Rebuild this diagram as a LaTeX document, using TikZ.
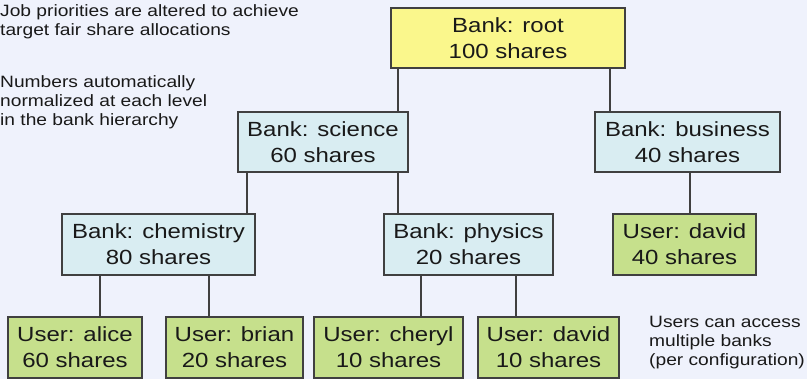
\documentclass[tikz,border=0pt]{standalone}
\usepackage{fontspec}
\setmainfont{Liberation Sans}[FakeStretch=1.17]
\definecolor{bgc}{RGB}{239,242,252}
\definecolor{rootc}{RGB}{250,247,140}
\definecolor{bankc}{RGB}{217,237,242}
\definecolor{userc}{RGB}{198,224,140}
\definecolor{edgec}{RGB}{64,64,64}
\tikzset{
  box/.style={draw=edgec, line width=1.3pt, inner sep=0pt, align=center,
    font=\fontsize{20.5}{26}\selectfont, text=black!90},
  rootbox/.style={box, fill=rootc},
  bankbox/.style={box, fill=bankc},
  userbox/.style={box, fill=userc},
  link/.style={draw=edgec, line width=1.3pt},
  note/.style={anchor=base west, align=left, inner sep=0pt,
    font=\fontsize{16.4}{19.3}\selectfont, text=black!90}
}
\begin{document}
\begin{tikzpicture}[x=1pt,y=-1pt]
\fill[bgc] (0,0) rectangle (807,379);
\useasboundingbox (0,0) rectangle (807,379);

\node[rootbox, minimum width=234pt, minimum height=60pt] (root) at (508,38) {Bank: root\\100 shares};
\node[bankbox, minimum width=170pt, minimum height=60pt] (science) at (323,142) {Bank: science\\60 shares};
\node[bankbox, minimum width=185pt, minimum height=60pt] (business) at (687.5,142) {Bank: business\\40 shares};
\node[bankbox, minimum width=193pt, minimum height=61pt] (chem) at (158.5,244.5) {Bank: chemistry\\80 shares};
\node[bankbox, minimum width=169pt, minimum height=61pt] (phys) at (468.5,244.5) {Bank: physics\\20 shares};
\node[userbox, minimum width=143pt, minimum height=61pt] (david40) at (684.5,244.5) {User: david\\40 shares};
\node[userbox, minimum width=134pt, minimum height=61pt] (alice) at (75,347.5) {User: alice\\60 shares};
\node[userbox, minimum width=137pt, minimum height=61pt] (brian) at (234.5,347.5) {User: brian\\20 shares};
\node[userbox, minimum width=149pt, minimum height=61pt] (cheryl) at (388.5,347.5) {User: cheryl\\10 shares};
\node[userbox, minimum width=141pt, minimum height=61pt] (david10) at (548.5,347.5) {User: david\\10 shares};

\draw[link] ([xshift=-110pt]root.south) -- ([xshift=75pt]science.north);
\draw[link] ([xshift=102pt]root.south) -- ([xshift=-77.5pt]business.north);
\draw[link] ([xshift=-76pt]science.south) -- ([xshift=88.5pt]chem.north);
\draw[link] ([xshift=75pt]science.south) -- ([xshift=-70.5pt]phys.north);
\draw[link] ([xshift=2.5pt]business.south) -- ([xshift=5.5pt]david40.north);
\draw[link] ([xshift=-58.5pt]chem.south) -- ([xshift=25pt]alice.north);
\draw[link] ([xshift=50.5pt]chem.south) -- ([xshift=-25.5pt]brian.north);
\draw[link] ([xshift=-47.5pt]phys.south) -- ([xshift=32.5pt]cheryl.north);
\draw[link] ([xshift=47.5pt]phys.south) -- ([xshift=-32.5pt]david10.north);

\node[note] (n1) at (0,36) {Job priorities are altered to achieve\\target fair share allocations};
\node[note] (n2) at (0,126) {Numbers automatically\\normalized at each level\\in the bank hierarchy};
\node[note] (n3) at (649,366) {Users can access\\multiple banks\\(per configuration)};
\end{tikzpicture}
\end{document}
